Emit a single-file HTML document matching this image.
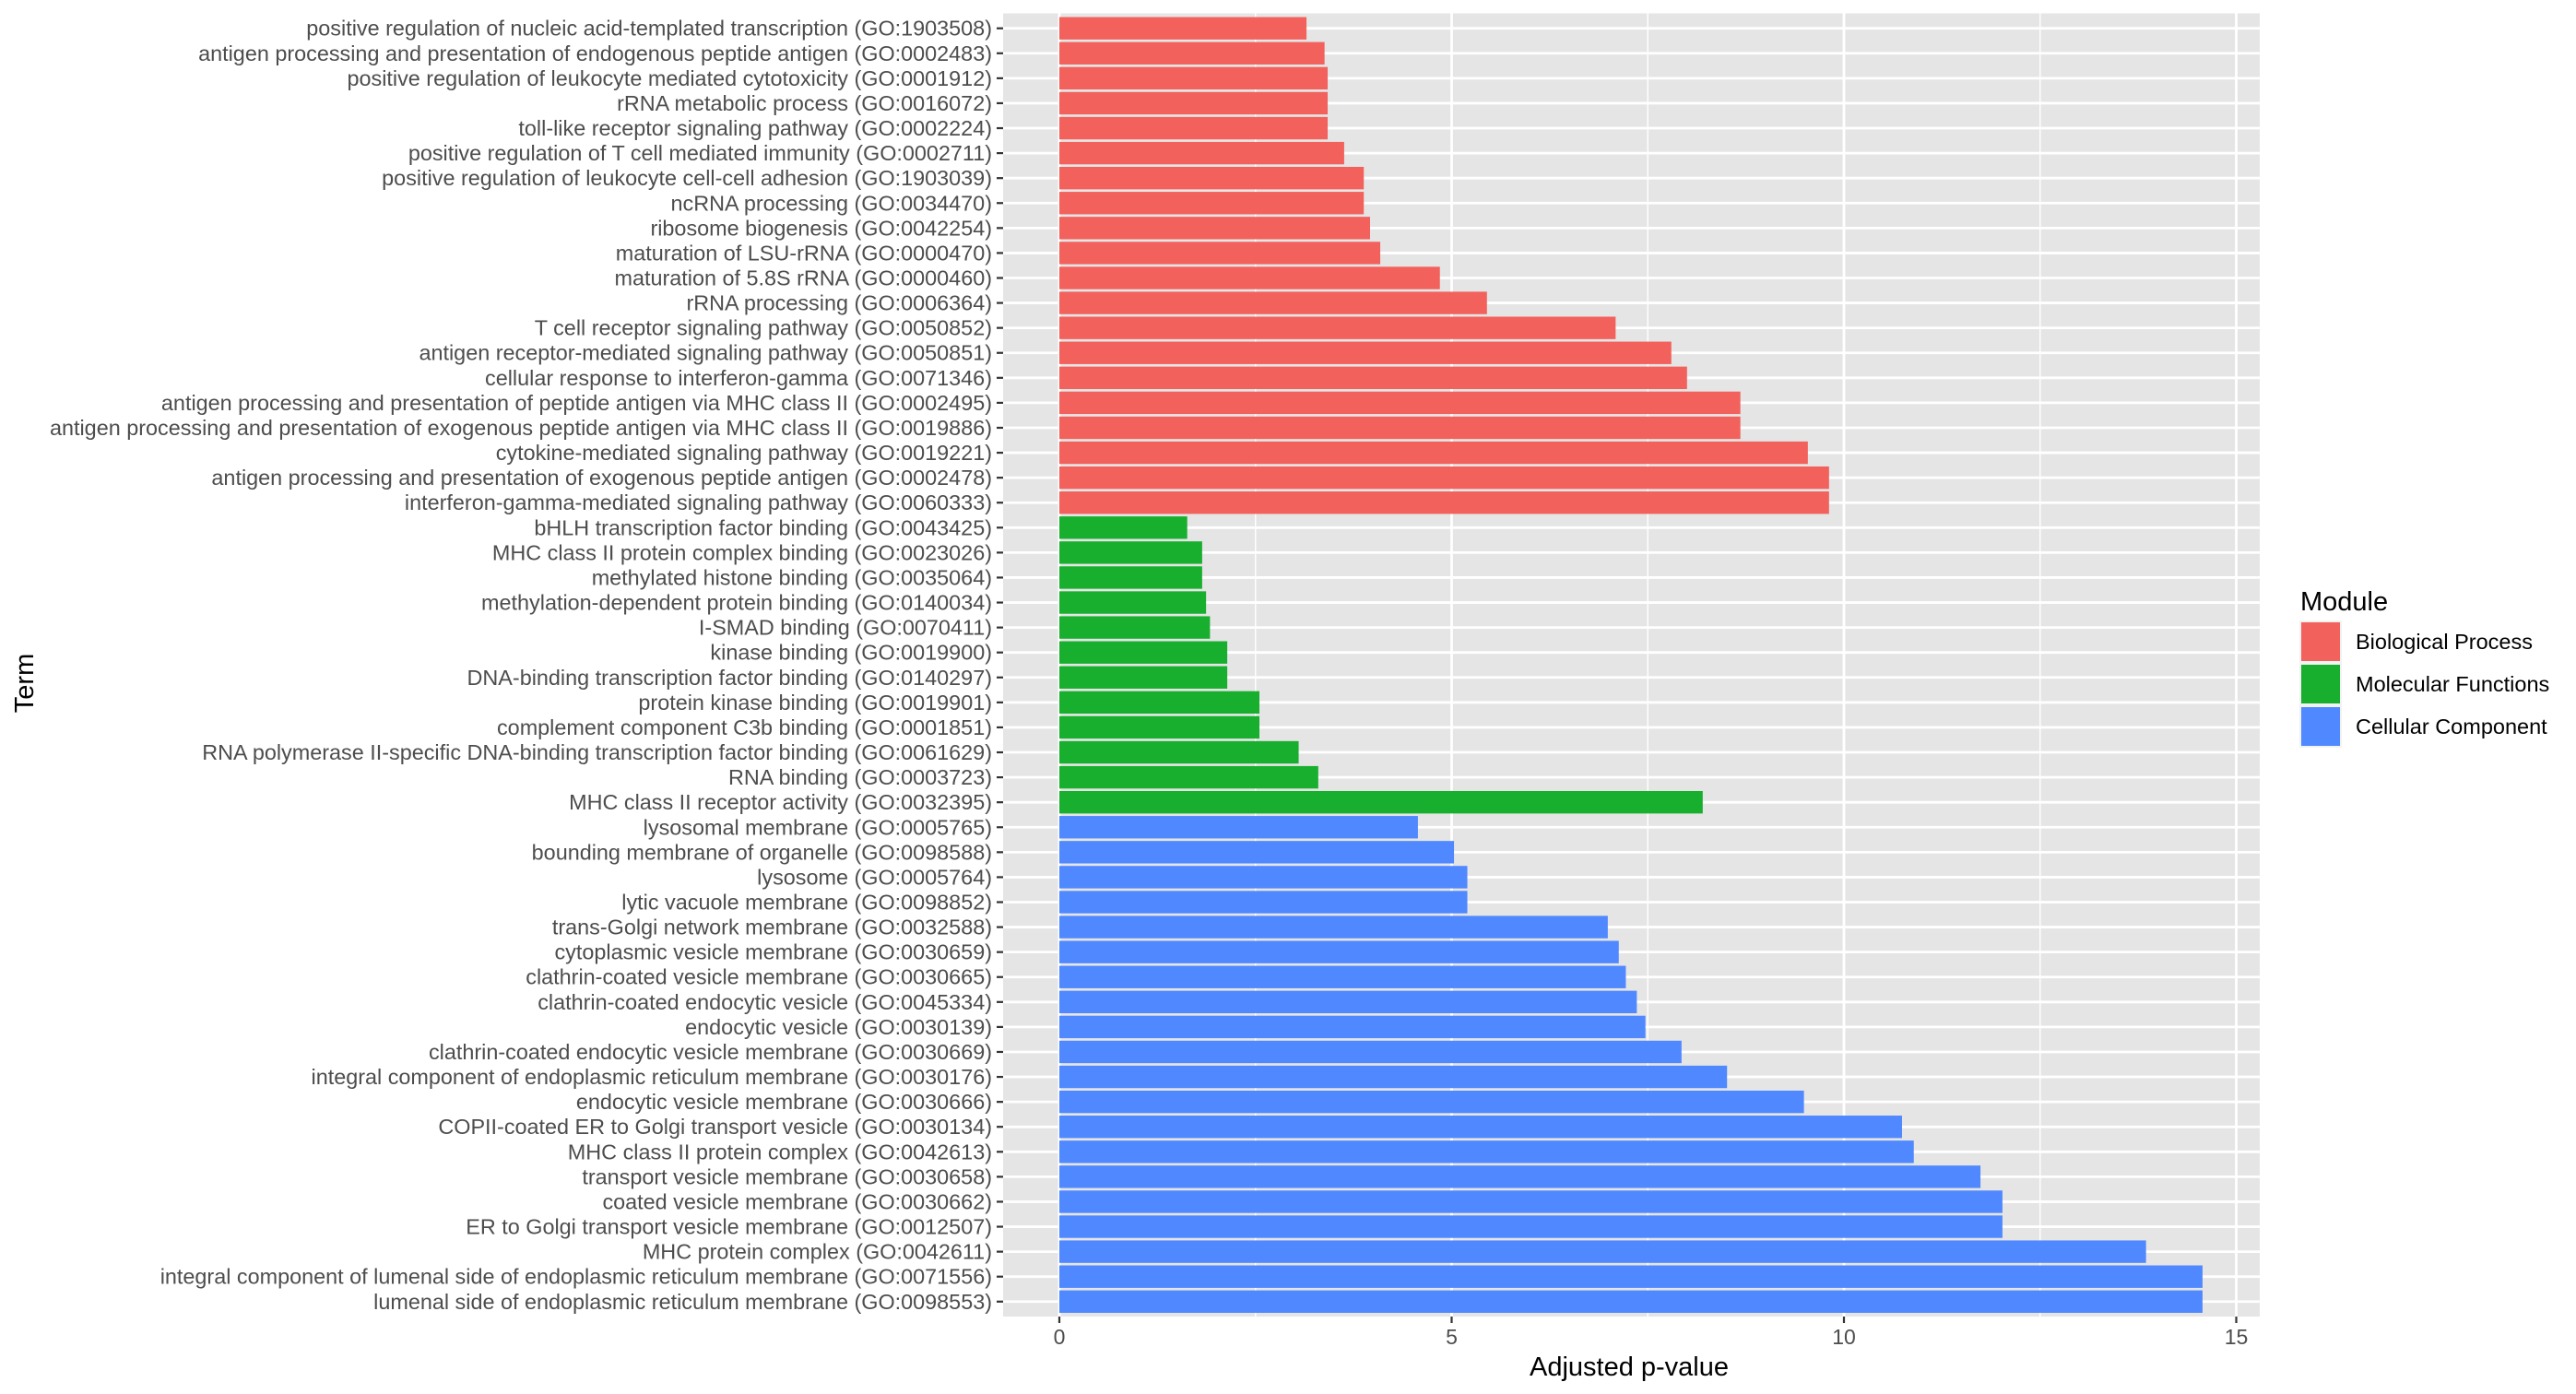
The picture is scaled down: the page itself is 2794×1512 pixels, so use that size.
<!DOCTYPE html>
<html><head><meta charset="utf-8"><style>
html,body{margin:0;padding:0;background:#fff;}
svg{display:block;font-family:"Liberation Sans",Arial,sans-serif;}
</style></head><body>
<svg id="chart" width="2794" height="1512" viewBox="0 0 2794 1512" xmlns="http://www.w3.org/2000/svg">
<rect x="0" y="0" width="2794" height="1512" fill="#ffffff"/>
<g id="panel"></g>
<g id="bars"></g>
<g id="yaxis"></g>
<g id="xaxis"></g>
<text x="1767" y="1492" font-size="29" text-anchor="middle" fill="#000">Adjusted p-value</text>
<text x="0" y="0" font-size="29" text-anchor="middle" fill="#000" transform="translate(36,741) rotate(-90)">Term</text>
<g id="legend"></g>
</svg>
<script>
const terms = [
"positive regulation of nucleic acid-templated transcription (GO:1903508)",
"antigen processing and presentation of endogenous peptide antigen (GO:0002483)",
"positive regulation of leukocyte mediated cytotoxicity (GO:0001912)",
"rRNA metabolic process (GO:0016072)",
"toll-like receptor signaling pathway (GO:0002224)",
"positive regulation of T cell mediated immunity (GO:0002711)",
"positive regulation of leukocyte cell-cell adhesion (GO:1903039)",
"ncRNA processing (GO:0034470)",
"ribosome biogenesis (GO:0042254)",
"maturation of LSU-rRNA (GO:0000470)",
"maturation of 5.8S rRNA (GO:0000460)",
"rRNA processing (GO:0006364)",
"T cell receptor signaling pathway (GO:0050852)",
"antigen receptor-mediated signaling pathway (GO:0050851)",
"cellular response to interferon-gamma (GO:0071346)",
"antigen processing and presentation of peptide antigen via MHC class II (GO:0002495)",
"antigen processing and presentation of exogenous peptide antigen via MHC class II (GO:0019886)",
"cytokine-mediated signaling pathway (GO:0019221)",
"antigen processing and presentation of exogenous peptide antigen (GO:0002478)",
"interferon-gamma-mediated signaling pathway (GO:0060333)",
"bHLH transcription factor binding (GO:0043425)",
"MHC class II protein complex binding (GO:0023026)",
"methylated histone binding (GO:0035064)",
"methylation-dependent protein binding (GO:0140034)",
"I-SMAD binding (GO:0070411)",
"kinase binding (GO:0019900)",
"DNA-binding transcription factor binding (GO:0140297)",
"protein kinase binding (GO:0019901)",
"complement component C3b binding (GO:0001851)",
"RNA polymerase II-specific DNA-binding transcription factor binding (GO:0061629)",
"RNA binding (GO:0003723)",
"MHC class II receptor activity (GO:0032395)",
"lysosomal membrane (GO:0005765)",
"bounding membrane of organelle (GO:0098588)",
"lysosome (GO:0005764)",
"lytic vacuole membrane (GO:0098852)",
"trans-Golgi network membrane (GO:0032588)",
"cytoplasmic vesicle membrane (GO:0030659)",
"clathrin-coated vesicle membrane (GO:0030665)",
"clathrin-coated endocytic vesicle (GO:0045334)",
"endocytic vesicle (GO:0030139)",
"clathrin-coated endocytic vesicle membrane (GO:0030669)",
"integral component of endoplasmic reticulum membrane (GO:0030176)",
"endocytic vesicle membrane (GO:0030666)",
"COPII-coated ER to Golgi transport vesicle (GO:0030134)",
"MHC class II protein complex (GO:0042613)",
"transport vesicle membrane (GO:0030658)",
"coated vesicle membrane (GO:0030662)",
"ER to Golgi transport vesicle membrane (GO:0012507)",
"MHC protein complex (GO:0042611)",
"integral component of lumenal side of endoplasmic reticulum membrane (GO:0071556)",
"lumenal side of endoplasmic reticulum membrane (GO:0098553)"
];
const values = [3.15,3.38,3.42,3.42,3.42,3.63,3.88,3.88,3.96,4.09,4.85,5.45,7.09,7.80,8.00,8.68,8.68,9.54,9.81,9.81,
1.63,1.82,1.82,1.87,1.92,2.14,2.14,2.55,2.55,3.05,3.30,8.20,
4.57,5.03,5.20,5.20,6.99,7.13,7.22,7.36,7.47,7.93,8.51,9.49,10.74,10.89,11.74,12.02,12.02,13.85,14.57,14.57];
const modules = [0,0,0,0,0,0,0,0,0,0,0,0,0,0,0,0,0,0,0,0,1,1,1,1,1,1,1,1,1,1,1,1,2,2,2,2,2,2,2,2,2,2,2,2,2,2,2,2,2,2,2,2];
const moduleNames = ["Biological Process","Molecular Functions","Cellular Component"];
const xTicks = [0,5,10,15];
const xMinor = [2.5,7.5,12.5];

const NS="http://www.w3.org/2000/svg";
const PL=1088, PR=2451, PT=14.5, PB=1428;
const X0=1149, XS=85.1;
const xs=v=>X0+v*XS;
const Y0=30.7, YS=27.08;
const ys=i=>Y0+i*YS;
const colors=["#F2615C","#19AF2E","#4F88FF"];
function mk(tag,attrs,parent){const e=document.createElementNS(NS,tag);for(const k in attrs)e.setAttribute(k,attrs[k]);parent.appendChild(e);return e;}
const panel=document.getElementById('panel');
const bg=mk('rect',{x:PL,y:PT,width:PR-PL,height:PB-PT,fill:'#e5e5e5'},panel);


xMinor.forEach(v=>{const l=mk('line',{x1:xs(v),x2:xs(v),y1:PT,y2:PB,stroke:'#fff','stroke-width':1.4},panel);

});
xTicks.forEach(v=>{const l=mk('line',{x1:xs(v),x2:xs(v),y1:PT,y2:PB,stroke:'#fff','stroke-width':2.8},panel);

});
terms.forEach((t,i)=>{const l=mk('line',{x1:PL,x2:PR,y1:ys(i),y2:ys(i),stroke:'#fff','stroke-width':2.8},panel);

});
const bars=document.getElementById('bars');
const yax=document.getElementById('yaxis');
const bh=YS*0.9;
values.forEach((v,i)=>{
 const r=mk('rect',{x:xs(0),y:ys(i)-bh/2,width:xs(v)-xs(0),height:bh,fill:colors[modules[i]]},bars);
 
 
 const tk=mk('line',{x1:PL-7,x2:PL,y1:ys(i),y2:ys(i),stroke:'#333','stroke-width':2.2},yax);
 
 
 const tx=mk('text',{x:PL-12,y:ys(i)+8,'font-size':23.4,'text-anchor':'end',fill:'#4d4d4d'},yax);
 tx.textContent=terms[i];
 
 
});
const xax=document.getElementById('xaxis');
xTicks.forEach(v=>{
 const tk=mk('line',{x1:xs(v),x2:xs(v),y1:PB,y2:PB+7,stroke:'#333','stroke-width':2.2},xax);
 
 
 const tx=mk('text',{x:xs(v),y:PB+30,'font-size':23,'text-anchor':'middle',fill:'#4d4d4d'},xax);
 tx.textContent=String(v);
 
 
});
const lg=document.getElementById('legend');
const lt=mk('text',{x:2495,y:662,'font-size':29,fill:'#000'},lg);
lt.textContent='Module';


moduleNames.forEach((n,k)=>{
 const y=673+k*46;
 const kb=mk('rect',{x:2494,y:y,width:46,height:46,fill:'#f2f2f2'},lg);
 
 
 const sw=mk('rect',{x:2496,y:y+2,width:42,height:42,fill:colors[k]},lg);
 
 
 const tx=mk('text',{x:2555,y:y+31,'font-size':23.5,fill:'#000'},lg);
 tx.textContent=n;
 
 
});
</script>
</body></html>
